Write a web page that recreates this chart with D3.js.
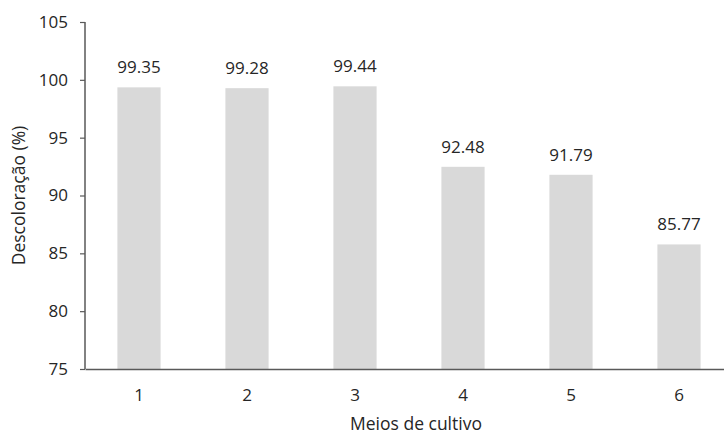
<!DOCTYPE html>
<html>
<head>
<meta charset="utf-8">
<script src="https://cdn.jsdelivr.net/npm/d3@7"></script>
<style>
  html, body { margin: 0; padding: 0; background: #fff; }
  svg { display: block; }
  text { font-family: "Open Sans", "Liberation Sans", sans-serif; fill: #262626; }
</style>
</head>
<body>
<svg id="chart" width="724" height="435"></svg>
<script>
const categories = ["1", "2", "3", "4", "5", "6"];
const values = [99.35, 99.28, 99.44, 92.48, 91.79, 85.77];
const yTicks = [75, 80, 85, 90, 95, 100, 105];
const xTitle = "Meios de cultivo";
const yTitle = "Descoloração (%)";

const svg = d3.select("#chart");
const mLeft = 85, mRight = 733, mTop = 22, mBottom = 369;

const x = d3.scaleBand().domain(categories).range([mLeft, mRight]).paddingInner(0.6).paddingOuter(0.3);
const y = d3.scaleLinear().domain([75, 105]).range([mBottom, mTop]);

svg.append("g").selectAll("rect").data(values).join("rect")
  .attr("x", (d, i) => x(categories[i]))
  .attr("y", d => y(d))
  .attr("width", x.bandwidth())
  .attr("height", d => y(75) - y(d))
  .attr("fill", "#d9d9d9");

svg.append("g").selectAll("text").data(values).join("text")
  .attr("x", (d, i) => x(categories[i]) + x.bandwidth() / 2)
  .attr("y", d => y(d) - 14)
  .attr("text-anchor", "middle")
  .attr("font-size", 17)
  .text(d => d.toFixed(2));

const yAxis = svg.append("g").attr("transform", `translate(${mLeft},0)`)
  .call(d3.axisLeft(y).tickValues(yTicks).tickSize(5).tickPadding(12).tickFormat(d3.format("d")));
yAxis.selectAll("text").attr("font-size", 17).style("font-family", '"Open Sans", sans-serif').attr("fill", "#262626");
yAxis.selectAll("line, path").attr("stroke", "#595959").attr("stroke-width", 1.5);
yAxis.select("path").attr("d", `M0,${mTop}V${mBottom}`);
yAxis.selectAll(".tick line").attr("stroke-width", 1.2);

const xAxis = svg.append("g").attr("transform", `translate(0,${mBottom})`)
  .call(d3.axisBottom(x).tickSize(0).tickPadding(20));
xAxis.selectAll("text").attr("font-size", 17).style("font-family", '"Open Sans", sans-serif').attr("fill", "#262626");
xAxis.select("path").attr("stroke", "#595959").attr("stroke-width", 1.5);

svg.append("text")
  .attr("x", 416)
  .attr("y", 430)
  .attr("text-anchor", "middle")
  .attr("font-size", 17.5)
  .text(xTitle);

svg.append("text")
  .attr("transform", `translate(25,${(mTop + mBottom) / 2}) rotate(-90)`)
  .attr("text-anchor", "middle")
  .attr("font-size", 17.5)
  .text(yTitle);
</script>
</body>
</html>
